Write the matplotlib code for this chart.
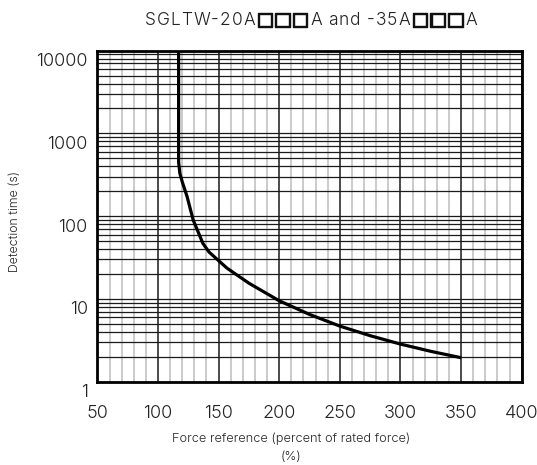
import numpy as np
import matplotlib.pyplot as plt
import matplotlib.patheffects as pe
from matplotlib.ticker import FixedLocator, MultipleLocator, LogLocator, NullFormatter
from matplotlib.transforms import ScaledTranslation

plt.rcParams['font.family'] = ['Inter', 'DejaVu Sans']
plt.rcParams['font.weight'] = 300

# curve
force = [117, 117, 118, 120, 124, 129, 137, 142, 150, 157, 175, 200, 225, 250, 275, 300, 325, 350]
det_time = [10000, 450, 330, 260, 172, 90, 47, 37, 29, 23.5, 15.5, 9.5, 6.5, 4.7, 3.6, 2.85, 2.33, 1.95]

x_ticks = [50, 100, 150, 200, 250, 300, 350, 400]
y_ticks = [1, 10, 100, 1000, 10000]
y_labels = ['1', '10', '100', '1000', '10000']

title = 'SGLTW-20A\u25a1\u25a1\u25a1A and -35A\u25a1\u25a1\u25a1A'

fig = plt.figure(figsize=(5.37, 4.65), dpi=100)
ax = fig.add_axes([0.1814, 0.1791, 0.790, 0.712])

ax.set_yscale('log')
ax.set_xlim(50, 400)
ax.set_ylim(1, 10000)

ax.xaxis.set_major_locator(FixedLocator(x_ticks))
ax.xaxis.set_minor_locator(MultipleLocator(10))
ax.yaxis.set_major_locator(FixedLocator(y_ticks))
ax.yaxis.set_minor_locator(LogLocator(base=10, subs=np.arange(2, 10)))
ax.yaxis.set_minor_formatter(NullFormatter())
ax.set_xticklabels([str(v) for v in x_ticks])
ax.set_yticklabels(y_labels)

ax.grid(which='minor', axis='x', color='#bdbdbd', lw=1.1)
ax.grid(which='major', axis='x', color='#1a1a1a', lw=1.1)
ax.grid(which='both', axis='y', color='#1a1a1a', lw=0.9)
ax.set_axisbelow(True)

ax.tick_params(which='both', length=0)
ax.tick_params(axis='x', labelsize=13, pad=17, labelcolor='#222222')
ax.tick_params(axis='y', labelsize=13, pad=7, labelcolor='#222222')
for lab in ax.get_yticklabels():
    lab.set_transform(lab.get_transform() + ScaledTranslation(0, -9 / 100, fig.dpi_scale_trans))

for s in ax.spines.values():
    s.set_linewidth(2)
    s.set_color('black')

ax.plot(force, det_time, color='black', lw=2.3, solid_capstyle='butt', zorder=3)

# axis labels (pixel positions from the reference, y from top)
fig.text(291 / 537, 1 - 439 / 465, 'Force reference (percent of rated force)',
         ha='center', va='center', fontsize=9.2, color='#222222')
fig.text(291 / 537, 1 - 457 / 465, '(%)',
         ha='center', va='center', fontsize=9.2, color='#222222')
fig.text(15 / 537, 1 - 221 / 465, 'Detection time (s)', rotation=90,
         ha='center', va='center', fontsize=8.9, color='#222222')

# title: characters placed one by one so the wide tracking of the original fits
fig.canvas.draw()
renderer = fig.canvas.get_renderer()
box = '\u25a1'
chars = []
for ch in title:
    if ch == box:
        t = fig.text(0, 0, ch, fontsize=13.5, family='DejaVu Sans', weight='bold',
                     color='#111111', va='baseline',
                     path_effects=[pe.withStroke(linewidth=1.0, foreground='#111111')])
    else:
        t = fig.text(0, 0, ch, fontsize=12.5, color='#222222', va='baseline')
    chars.append(t)
widths = []
for ch, t in zip(title, chars):
    w = 4.5 if ch == ' ' else t.get_window_extent(renderer).width
    widths.append(w)
# no extra spacing between neighbouring boxes
gaps = [0 if (a == box and b == box) else 1 for a, b in zip(title[:-1], title[1:])]
left, right = 145, 477
track = (right - left - sum(widths)) / sum(gaps)
x0 = left
for i, (t, w) in enumerate(zip(chars, widths)):
    t.set_transform(fig.dpi_scale_trans)
    t.set_position((x0 / 100, (465 - 25) / 100))
    x0 += w + (track * gaps[i] if i < len(gaps) else 0)

fig.savefig('out.png', dpi=100)
